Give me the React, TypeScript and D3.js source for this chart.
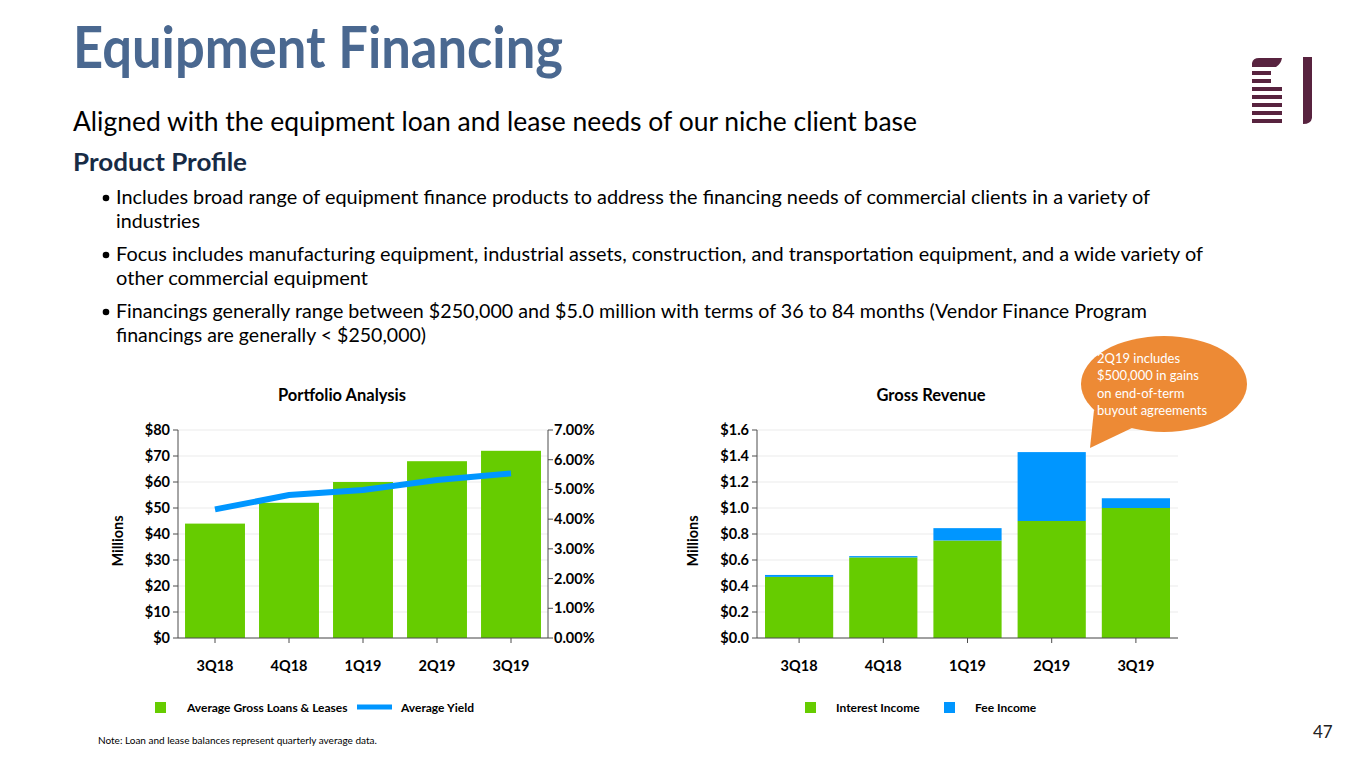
import React from "react";
import * as d3 from "d3";

const quarters = ["3Q18", "4Q18", "1Q19", "2Q19", "3Q19"];
const avgGrossLoans = [44, 52, 60, 68, 72];
const avgYield = [4.33, 4.81, 4.98, 5.32, 5.54];
const interestIncome = [0.47, 0.62, 0.75, 0.9, 1.0];
const feeIncome = [0.015, 0.01, 0.095, 0.53, 0.075];
const leftTicks = [0, 10, 20, 30, 40, 50, 60, 70, 80];
const yieldTicks = [0, 1, 2, 3, 4, 5, 6, 7];
const revTicks = [0, 0.2, 0.4, 0.6, 0.8, 1.0, 1.2, 1.4, 1.6];

const bullets = [
  ["Includes broad range of equipment finance products to address the financing needs of commercial clients in a variety of", "industries"],
  ["Focus includes manufacturing equipment, industrial assets, construction, and transportation equipment, and a wide variety of", "other commercial equipment"],
  ["Financings generally range between $250,000 and $5.0 million with terms of 36 to 84 months (Vendor Finance Program", "financings are generally < $250,000)"],
];
const bulletWidths = [[1034, 84], [1087, 252], [1031, 310]];
const calloutLines = ["2Q19 includes", "$500,000 in gains", "on end-of-term", "buyout agreements"];

const GREEN = "#66CC00";
const BLUE = "#0096FF";
const FONT = "Lato, 'Open Sans', sans-serif";

export default function App() {
  const top = 430, bottom = 638;
  // Left chart
  const xL = d3.scaleBand().domain(quarters).range([178, 548]).paddingInner(0.19).paddingOuter(0.095);
  const yL = d3.scaleLinear().domain([0, 80]).range([bottom, top]);
  const yR = d3.scaleLinear().domain([0, 7]).range([bottom, top]);
  const line = d3.line<number>().x((_, i) => xL(quarters[i])! + xL.bandwidth() / 2).y((d) => yR(d));
  // Right chart
  const xR = d3.scaleBand().domain(quarters).range([757, 1178]).paddingInner(0.19).paddingOuter(0.095);
  const yRev = d3.scaleLinear().domain([0, 1.6]).range([bottom, top]);
  const stack = d3.stack<any>().keys(["interest", "fee"])(
    quarters.map((q, i) => ({ q, interest: interestIncome[i], fee: feeIncome[i] }))
  );
  const stackColors = [GREEN, BLUE];
  const tickFs = 14.5;

  return (
    <svg width={1365} height={768} style={{ position: "absolute", left: 0, top: 0, background: "#fff" }} fontFamily={FONT}>
      <rect width={1365} height={768} fill="#fff" />
      {/* Header */}
      <text x={73} y={68} fontSize={58} fontWeight={700} fill="#4A6890" textLength={490} lengthAdjust="spacingAndGlyphs">Equipment Financing</text>
      <text x={73} y={131} fontSize={26} fill="#000" textLength={844} lengthAdjust="spacingAndGlyphs">Aligned with the equipment loan and lease needs of our niche client base</text>
      <text x={73} y={171} fontSize={24} fontWeight={700} fill="#172B45" textLength={174} lengthAdjust="spacingAndGlyphs">Product Profile</text>
      {bullets.map((b, i) => {
        const y0 = 204 + i * 57;
        return (
          <g key={i}>
            <circle cx={106} cy={y0 - 6} r={3.3} fill="#000" />
            <text x={116} y={y0} fontSize={19.5} fill="#000" textLength={bulletWidths[i][0]} lengthAdjust="spacingAndGlyphs">{b[0]}</text>
            <text x={116} y={y0 + 24} fontSize={19.5} fill="#000" textLength={bulletWidths[i][1]} lengthAdjust="spacingAndGlyphs">{b[1]}</text>
          </g>
        );
      })}

      {/* Logo */}
      <g fill="#58233F">
        <path d="M1252,67 L1252,63 Q1253,58 1259,58 L1282,58 Q1281,64 1276,67 Z" />
        <rect x={1252} y={71} width={19} height={4} />
        <rect x={1252} y={79} width={19} height={4} />
        <rect x={1252} y={87} width={30} height={4} />
        <rect x={1252} y={95} width={30} height={4} />
        <rect x={1252} y={103} width={30} height={4} />
        <rect x={1252} y={111} width={30} height={4} />
        <rect x={1252} y={119} width={30} height={4} />
        <path d="M1303,57 L1312,57 L1312,118 Q1311,124 1303,124 Z" />
      </g>

      {/* Left chart */}
      <text x={342} y={401} fontSize={16.5} fontWeight={700} textAnchor="middle">Portfolio Analysis</text>
      {leftTicks.map((t) => (
        <line key={t} x1={178} x2={548} y1={yL(t)} y2={yL(t)} stroke="#EBEBEB" strokeWidth={1} />
      ))}
      {quarters.map((q, i) => (
        <rect key={q} x={xL(q)} y={yL(avgGrossLoans[i])} width={xL.bandwidth()} height={bottom - yL(avgGrossLoans[i])} fill={GREEN} />
      ))}
      <path d={line(avgYield)!} fill="none" stroke={BLUE} strokeWidth={6} />
      <line x1={178} x2={178} y1={top} y2={bottom} stroke="#4D4D4D" />
      <line x1={548} x2={548} y1={top} y2={bottom} stroke="#4D4D4D" />
      <line x1={178} x2={548} y1={bottom} y2={bottom} stroke="#4D4D4D" />
      {leftTicks.map((t) => (
        <g key={t}>
          <line x1={173} x2={178} y1={yL(t)} y2={yL(t)} stroke="#4D4D4D" />
          <text x={170} y={yL(t) + 5} fontSize={tickFs} fontWeight={700} textAnchor="end">${t}</text>
        </g>
      ))}
      {yieldTicks.map((t) => (
        <g key={t}>
          <line x1={548} x2={553} y1={yR(t)} y2={yR(t)} stroke="#4D4D4D" />
          <text x={554} y={yR(t) + 5} fontSize={tickFs} fontWeight={700}>{t.toFixed(2)}%</text>
        </g>
      ))}
      {quarters.map((q) => {
        const cx = xL(q)! + xL.bandwidth() / 2;
        return (
          <g key={q}>
            <line x1={cx} x2={cx} y1={bottom} y2={bottom + 5} stroke="#4D4D4D" />
            <text x={cx} y={671} fontSize={tickFs} fontWeight={700} textAnchor="middle">{q}</text>
          </g>
        );
      })}
      <text transform="translate(123,541) rotate(-90)" fontSize={14.5} fontWeight={700} textAnchor="middle">Millions</text>
      {/* Left legend */}
      <rect x={155} y={702} width={11} height={11} fill={GREEN} />
      <text x={187} y={712} fontSize={12} fontWeight={700}>Average Gross Loans &amp; Leases</text>
      <line x1={357} x2={392} y1={707} y2={707} stroke={BLUE} strokeWidth={5} />
      <text x={401} y={712} fontSize={12} fontWeight={700}>Average Yield</text>

      {/* Right chart */}
      <text x={931} y={401} fontSize={16.5} fontWeight={700} textAnchor="middle">Gross Revenue</text>
      {revTicks.map((t) => (
        <line key={t} x1={757} x2={1178} y1={yRev(t)} y2={yRev(t)} stroke="#EBEBEB" strokeWidth={1} />
      ))}
      {stack.map((s, si) =>
        s.map((d, i) => (
          <rect key={`${si}-${i}`} x={xR(quarters[i])} y={yRev(d[1])} width={xR.bandwidth()} height={yRev(d[0]) - yRev(d[1])} fill={stackColors[si]} />
        ))
      )}
      <line x1={757} x2={757} y1={top} y2={bottom} stroke="#4D4D4D" />
      <line x1={757} x2={1178} y1={bottom} y2={bottom} stroke="#4D4D4D" />
      {revTicks.map((t) => (
        <g key={t}>
          <line x1={752} x2={757} y1={yRev(t)} y2={yRev(t)} stroke="#4D4D4D" />
          <text x={749} y={yRev(t) + 5} fontSize={tickFs} fontWeight={700} textAnchor="end">${t.toFixed(1)}</text>
        </g>
      ))}
      {quarters.map((q) => {
        const cx = xR(q)! + xR.bandwidth() / 2;
        return (
          <g key={q}>
            <line x1={cx} x2={cx} y1={bottom} y2={bottom + 5} stroke="#4D4D4D" />
            <text x={cx} y={671} fontSize={tickFs} fontWeight={700} textAnchor="middle">{q}</text>
          </g>
        );
      })}
      <text transform="translate(698,541) rotate(-90)" fontSize={14.5} fontWeight={700} textAnchor="middle">Millions</text>
      {/* Right legend */}
      <rect x={805} y={702} width={11} height={11} fill={GREEN} />
      <text x={836} y={712} fontSize={12} fontWeight={700}>Interest Income</text>
      <rect x={944} y={702} width={11} height={11} fill={BLUE} />
      <text x={975} y={712} fontSize={12} fontWeight={700}>Fee Income</text>

      {/* Callout */}
      <g>
        <ellipse cx={1164} cy={384} rx={83} ry={48} fill="#ED8A35" />
        <path d="M1094,410 L1090,448 L1132,428 Z" fill="#ED8A35" />
        {calloutLines.map((l, i) => (
          <text key={i} x={1097} y={363 + i * 17.3} fontSize={13} fill="#fff">{l}</text>
        ))}
      </g>

      {/* Footer */}
      <text x={98} y={744} fontSize={10} fill="#000">Note: Loan and lease balances represent quarterly average data.</text>
      <text x={1313} y={738} fontSize={17} fill="#222">47</text>
    </svg>
  );
}
